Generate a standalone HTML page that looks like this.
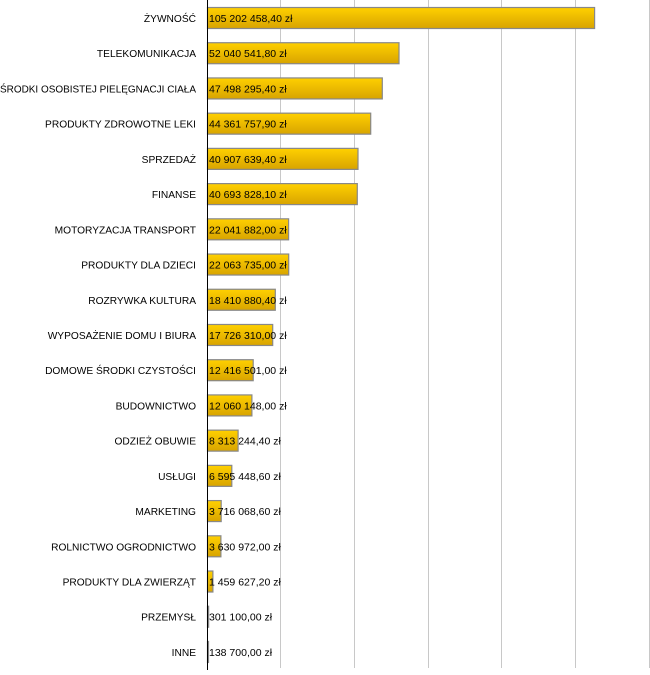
<!DOCTYPE html>
<html><head><meta charset="utf-8"><style>
body{margin:0;width:650px;height:670px;background:#fff;overflow:hidden}
</style></head><body>
<svg width="650" height="670" xmlns="http://www.w3.org/2000/svg" font-family="Liberation Sans, sans-serif" font-size="10.5">
<defs><linearGradient id="g" x1="0" y1="0" x2="0" y2="1"><stop offset="0" stop-color="#ffd000"/><stop offset="1" stop-color="#d8a400"/></linearGradient></defs>
<g stroke="#c8c8c8" stroke-width="1">
<line x1="280.5" y1="0" x2="280.5" y2="668"/><line x1="354.5" y1="0" x2="354.5" y2="668"/><line x1="428.5" y1="0" x2="428.5" y2="668"/><line x1="501.5" y1="0" x2="501.5" y2="668"/><line x1="575.5" y1="0" x2="575.5" y2="668"/><line x1="649.5" y1="0" x2="649.5" y2="668"/>
</g>
<g fill="url(#g)" stroke="#888" stroke-width="1.2">
<rect x="207.5" y="7.5" width="387.1" height="21"/>
<rect x="207.5" y="42.72" width="191.5" height="21"/>
<rect x="207.5" y="77.94" width="174.8" height="21"/>
<rect x="207.5" y="113.16" width="163.2" height="21"/>
<rect x="207.5" y="148.38" width="150.5" height="21"/>
<rect x="207.5" y="183.6" width="149.8" height="21"/>
<rect x="207.5" y="218.82" width="81.1" height="21"/>
<rect x="207.5" y="254.04" width="81.2" height="21"/>
<rect x="207.5" y="289.26" width="67.8" height="21"/>
<rect x="207.5" y="324.48" width="65.2" height="21"/>
<rect x="207.5" y="359.7" width="45.7" height="21"/>
<rect x="207.5" y="394.92" width="44.4" height="21"/>
<rect x="207.5" y="430.14" width="30.6" height="21"/>
<rect x="207.5" y="465.36" width="24.3" height="21"/>
<rect x="207.5" y="500.58" width="13.7" height="21"/>
<rect x="207.5" y="535.8" width="13.4" height="21"/>
<rect x="207.5" y="571.02" width="5.4" height="21"/>
<rect x="207.5" y="606.24" width="1.1" height="21"/>
<rect x="207.5" y="641.46" width="1" height="21"/>
</g>
<g text-anchor="end" fill="#000" font-size="10.2">
<text x="196" y="22">ŻYWNOŚĆ</text>
<text x="196" y="57.22">TELEKOMUNIKACJA</text>
<text x="196" y="92.44" textLength="196" lengthAdjust="spacingAndGlyphs">ŚRODKI OSOBISTEJ PIELĘGNACJI CIAŁA</text>
<text x="196" y="127.66">PRODUKTY ZDROWOTNE LEKI</text>
<text x="196" y="162.88">SPRZEDAŻ</text>
<text x="196" y="198.1">FINANSE</text>
<text x="196" y="233.32">MOTORYZACJA TRANSPORT</text>
<text x="196" y="268.54">PRODUKTY DLA DZIECI</text>
<text x="196" y="303.76">ROZRYWKA KULTURA</text>
<text x="196" y="338.98">WYPOSAŻENIE DOMU I BIURA</text>
<text x="196" y="374.2">DOMOWE ŚRODKI CZYSTOŚCI</text>
<text x="196" y="409.42">BUDOWNICTWO</text>
<text x="196" y="444.64">ODZIEŻ OBUWIE</text>
<text x="196" y="479.86">USŁUGI</text>
<text x="196" y="515.08">MARKETING</text>
<text x="196" y="550.3">ROLNICTWO OGRODNICTWO</text>
<text x="196" y="585.52">PRODUKTY DLA ZWIERZĄT</text>
<text x="196" y="620.74">PRZEMYSŁ</text>
<text x="196" y="655.96">INNE</text>
</g>
<g fill="#000">
<text x="209" y="22">105 202 458,40 zł</text>
<text x="209" y="57.22">52 040 541,80 zł</text>
<text x="209" y="92.44">47 498 295,40 zł</text>
<text x="209" y="127.66">44 361 757,90 zł</text>
<text x="209" y="162.88">40 907 639,40 zł</text>
<text x="209" y="198.1">40 693 828,10 zł</text>
<text x="209" y="233.32">22 041 882,00 zł</text>
<text x="209" y="268.54">22 063 735,00 zł</text>
<text x="209" y="303.76">18 410 880,40 zł</text>
<text x="209" y="338.98">17 726 310,00 zł</text>
<text x="209" y="374.2">12 416 501,00 zł</text>
<text x="209" y="409.42">12 060 148,00 zł</text>
<text x="209" y="444.64">8 313 244,40 zł</text>
<text x="209" y="479.86">6 595 448,60 zł</text>
<text x="209" y="515.08">3 716 068,60 zł</text>
<text x="209" y="550.3">3 630 972,00 zł</text>
<text x="209" y="585.52">1 459 627,20 zł</text>
<text x="209" y="620.74">301 100,00 zł</text>
<text x="209" y="655.96">138 700,00 zł</text>
</g>
<line x1="207.5" y1="0" x2="207.5" y2="670" stroke="#000" stroke-width="1"/>
</svg>
</body></html>
